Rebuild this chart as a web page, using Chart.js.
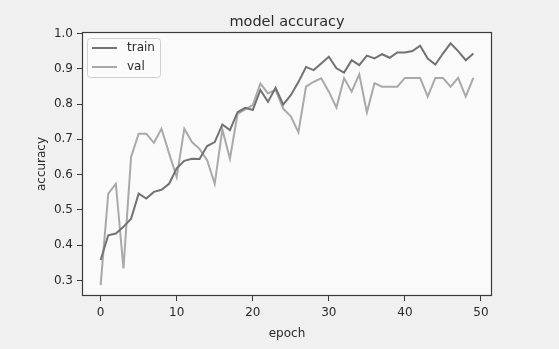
<!DOCTYPE html>
<html>
<head>
<meta charset="utf-8">
<script src="https://cdn.jsdelivr.net/npm/chart.js@4"></script>
<style>
  html, body { margin: 0; padding: 0; background: #f0f0f0; }
  #wrap { width: 559px; height: 349px; }
</style>
</head>
<body>
<div id="wrap"><canvas id="c" width="559" height="349"></canvas></div>
<script>
const epochs = Array.from({length: 50}, (_, i) => i);
const trainAcc = [0.358, 0.428, 0.433, 0.452, 0.475, 0.546, 0.532, 0.551, 0.557, 0.574,
                  0.618, 0.639, 0.645, 0.644, 0.681, 0.692, 0.742, 0.726, 0.777, 0.789,
                  0.783, 0.840, 0.806, 0.846, 0.798, 0.825, 0.862, 0.905, 0.896, 0.915,
                  0.934, 0.901, 0.889, 0.924, 0.910, 0.937, 0.929, 0.941, 0.931, 0.946,
                  0.946, 0.950, 0.965, 0.929, 0.912, 0.943, 0.972, 0.950, 0.924, 0.943];
const valAcc = [0.287, 0.546, 0.574, 0.334, 0.650, 0.716, 0.716, 0.690, 0.730, 0.660,
                0.593, 0.730, 0.692, 0.673, 0.641, 0.574, 0.728, 0.645, 0.772, 0.785,
                0.797, 0.858, 0.830, 0.840, 0.787, 0.765, 0.720, 0.849, 0.863, 0.873,
                0.835, 0.790, 0.873, 0.835, 0.884, 0.776, 0.859, 0.849, 0.849, 0.849,
                0.874, 0.874, 0.874, 0.821, 0.874, 0.874, 0.849, 0.874, 0.821, 0.874];
const xTicks = [0, 10, 20, 30, 40, 50];
const yTicks = [0.3, 0.4, 0.5, 0.6, 0.7, 0.8, 0.9, 1.0];
const seriesNames = ['train', 'val'];
const titleText = 'model accuracy';
const xTitle = 'epoch';
const yTitle = 'accuracy';

const FONT = 'DejaVu Sans';
const TEXT = '#2a2a2a';
const FRAME = '#3a3a3a';

const bgPlugin = {
  id: 'bg',
  beforeDraw(chart) {
    const {ctx, chartArea: a} = chart;
    ctx.save();
    ctx.fillStyle = '#f0f0f0';
    ctx.fillRect(0, 0, chart.width, chart.height);
    ctx.fillStyle = '#fafafa';
    ctx.fillRect(a.left, a.top, a.right - a.left, a.bottom - a.top);
    ctx.restore();
  },
  afterDraw(chart) {
    const {ctx, chartArea: a} = chart;
    ctx.save();
    ctx.strokeStyle = FRAME;
    ctx.lineWidth = 1.2;
    ctx.strokeRect(a.left + 0.5, a.top + 0.5, a.right - a.left - 1, a.bottom - a.top - 1);
    // legend
    const x0 = a.left + 5, y0 = a.top + 6, w = 73, h = 39;
    ctx.fillStyle = 'rgba(250,250,250,0.85)';
    ctx.strokeStyle = '#d0d0d0';
    ctx.lineWidth = 1;
    ctx.beginPath();
    if (ctx.roundRect) ctx.roundRect(x0 + 0.5, y0 + 0.5, w, h, 3); else ctx.rect(x0 + 0.5, y0 + 0.5, w, h);
    ctx.fill();
    ctx.stroke();
    ctx.font = '12px "' + FONT + '"';
    ctx.textBaseline = 'middle';
    chart.data.datasets.forEach((ds, i) => {
      const yy = y0 + 10 + i * 19;
      ctx.strokeStyle = ds.borderColor;
      ctx.lineWidth = 2;
      ctx.beginPath();
      ctx.moveTo(x0 + 5, yy);
      ctx.lineTo(x0 + 30, yy);
      ctx.stroke();
      ctx.fillStyle = TEXT;
      ctx.fillText(ds.label, x0 + 40, yy);
    });
    ctx.restore();
  }
};

new Chart(document.getElementById('c'), {
  type: 'line',
  data: {
    datasets: [
      { label: seriesNames[0], data: epochs.map((e, i) => ({x: e, y: trainAcc[i]})),
        borderColor: '#727272', borderWidth: 2, pointRadius: 0, tension: 0, fill: false },
      { label: seriesNames[1], data: epochs.map((e, i) => ({x: e, y: valAcc[i]})),
        borderColor: '#a9a9a9', borderWidth: 2, pointRadius: 0, tension: 0, fill: false }
    ]
  },
  options: {
    responsive: false,
    animation: false,
    layout: { padding: { left: 0, right: 67, top: 0, bottom: 0 } },
    plugins: {
      legend: { display: false },
      tooltip: { enabled: false },
      title: {
        display: true, text: titleText, color: TEXT, fullSize: false,
        font: { family: FONT, size: 14.5, weight: 'normal' },
        padding: { top: 14, bottom: 0.6 }
      }
    },
    scales: {
      x: {
        type: 'linear', min: -2.45, max: 51.45,
        afterBuildTicks: s => { s.ticks = xTicks.map(v => ({value: v})); },
        afterFit: s => { s.height = 53; },
        grid: { drawOnChartArea: false, drawTicks: true, tickLength: 5, color: FRAME, tickColor: FRAME },
        border: { display: false },
        ticks: { color: TEXT, font: { family: FONT, size: 12 }, padding: 5, maxRotation: 0, autoSkip: false,
                 callback: v => String(v) },
        title: { display: true, text: xTitle, color: TEXT, font: { family: FONT, size: 12 }, padding: { top: 0, bottom: 8 } }
      },
      y: {
        type: 'linear', min: 0.256, max: 1.004,
        afterBuildTicks: s => { s.ticks = yTicks.map(v => ({value: v})); },
        afterFit: s => { s.width = 82; },
        grid: { drawOnChartArea: false, drawTicks: true, tickLength: 5, color: FRAME, tickColor: FRAME },
        border: { display: false },
        ticks: { color: TEXT, font: { family: FONT, size: 12 }, padding: 4, autoSkip: false,
                 callback: v => Number(v).toFixed(1) },
        title: { display: true, text: yTitle, color: TEXT, font: { family: FONT, size: 12 }, padding: { top: 35, bottom: 0 } }
      }
    }
  },
  plugins: [bgPlugin]
});
</script>
</body>
</html>
